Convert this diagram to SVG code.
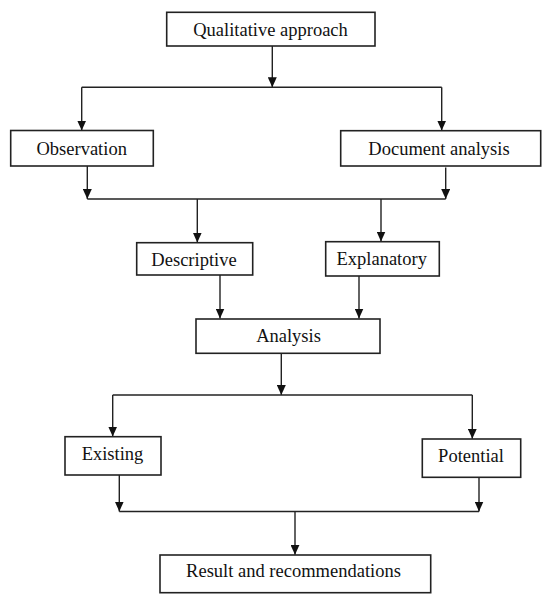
<svg xmlns="http://www.w3.org/2000/svg" width="550" height="604" viewBox="0 0 550 604">
<style>
.box{fill:#fff;stroke:#222;stroke-width:1.6}
.lbl{font-family:"Liberation Serif","Times New Roman",serif;font-size:18.5px;fill:#111;text-anchor:middle}
.ln{fill:none;stroke:#222;stroke-width:1.4}
</style>
<defs>
<marker id="ah" markerUnits="userSpaceOnUse" markerWidth="10" markerHeight="9" viewBox="0 0 10 9" refX="10" refY="4.5" orient="auto">
<path d="M0,0 L10,4.5 L0,9 Z" fill="#111"/>
</marker>
</defs>
<rect width="550" height="604" fill="#fff"/>
<g id="connectors">
<line class="ln" x1="272.3" y1="46" x2="272.3" y2="87.3" marker-end="url(#ah)"/>
<line class="ln" x1="81.7" y1="87.3" x2="441.7" y2="87.3"/>
<line class="ln" x1="81.7" y1="87.3" x2="81.7" y2="130.5" marker-end="url(#ah)"/>
<line class="ln" x1="441.7" y1="87.3" x2="441.7" y2="130.5" marker-end="url(#ah)"/>
<line class="ln" x1="87.3" y1="166" x2="87.3" y2="199" marker-end="url(#ah)"/>
<line class="ln" x1="445.7" y1="167.5" x2="445.7" y2="199" marker-end="url(#ah)"/>
<line class="ln" x1="87.3" y1="199" x2="445.7" y2="199"/>
<line class="ln" x1="197.3" y1="199" x2="197.3" y2="242.5" marker-end="url(#ah)"/>
<line class="ln" x1="381" y1="199" x2="381" y2="241.5" marker-end="url(#ah)"/>
<line class="ln" x1="220" y1="275" x2="220" y2="318.5" marker-end="url(#ah)"/>
<line class="ln" x1="359" y1="276" x2="359" y2="318.5" marker-end="url(#ah)"/>
<line class="ln" x1="281.3" y1="353.5" x2="281.3" y2="395" marker-end="url(#ah)"/>
<line class="ln" x1="112.7" y1="395" x2="472.3" y2="395"/>
<line class="ln" x1="112.7" y1="395" x2="112.7" y2="436.5" marker-end="url(#ah)"/>
<line class="ln" x1="472.3" y1="395" x2="472.3" y2="438.8" marker-end="url(#ah)"/>
<line class="ln" x1="119.3" y1="475" x2="119.3" y2="511.5" marker-end="url(#ah)"/>
<line class="ln" x1="479" y1="477.3" x2="479" y2="511.5" marker-end="url(#ah)"/>
<line class="ln" x1="119.3" y1="511.5" x2="479" y2="511.5"/>
<line class="ln" x1="295" y1="511.5" x2="295" y2="554.8" marker-end="url(#ah)"/>
</g>
<g id="node-qualitative">
<rect class="box" x="166.7" y="12.3" width="208.3" height="33.7"/>
<text class="lbl" x="270.5" y="35.5">Qualitative approach</text>
</g>
<g id="node-observation">
<rect class="box" x="10.7" y="130.5" width="142.6" height="35.5"/>
<text class="lbl" x="81.7" y="154.5">Observation</text>
</g>
<g id="node-document">
<rect class="box" x="340.7" y="130.7" width="200" height="35.3"/>
<text class="lbl" x="439" y="154.5">Document analysis</text>
</g>
<g id="node-descriptive">
<rect class="box" x="136.7" y="242.7" width="116" height="32.3"/>
<text class="lbl" x="194" y="266">Descriptive</text>
</g>
<g id="node-explanatory">
<rect class="box" x="325.7" y="241.7" width="113.6" height="34.3"/>
<text class="lbl" x="381.7" y="265">Explanatory</text>
</g>
<g id="node-analysis">
<rect class="box" x="196" y="319" width="184" height="34.3"/>
<text class="lbl" x="288.5" y="342">Analysis</text>
</g>
<g id="node-existing">
<rect class="box" x="65" y="436.7" width="96" height="38.3"/>
<text class="lbl" x="112.5" y="460">Existing</text>
</g>
<g id="node-potential">
<rect class="box" x="422.3" y="439" width="98.4" height="38.3"/>
<text class="lbl" x="471" y="462">Potential</text>
</g>
<g id="node-result">
<rect class="box" x="160" y="555" width="270.7" height="37.7"/>
<text class="lbl" x="293.5" y="576.5">Result and recommendations</text>
</g>
</svg>
